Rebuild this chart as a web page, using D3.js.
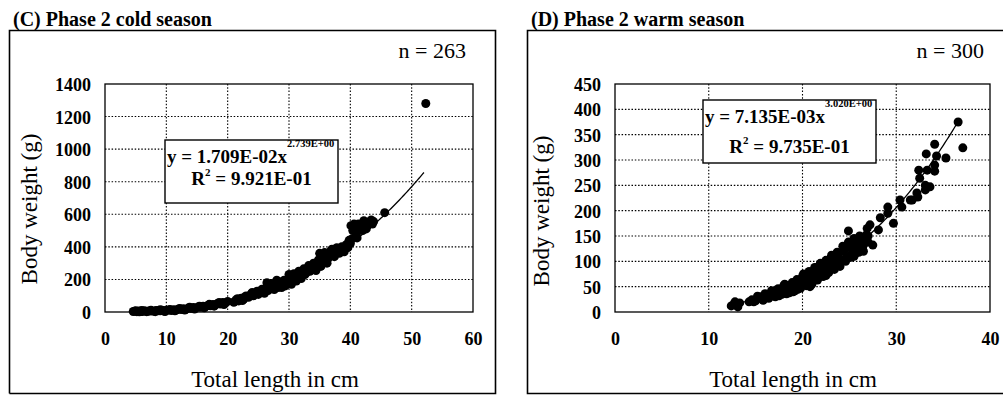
<!DOCTYPE html>
<html><head><meta charset="utf-8">
<script src="https://cdn.jsdelivr.net/npm/d3@7/dist/d3.min.js"></script>
</head><body style="margin:0;background:#fff">
<svg id="c" width="1003" height="395" font-family="serif" style="display:block;font-family:serif"></svg>
<script>
// ---- data ----
const coldLength = [4.6,4.9,5.2,5.5,5.8,6.1,6.4,6.7,7.0,7.3,7.6,8.0,8.3,8.6,9.0,9.3,9.6,10.0,10.4,10.8,11.2,11.6,12.0,12.4,12.8,13.2,13.6,14.0,14.4,14.8,15.2,15.6,16.0,16.4,16.8,17.2,17.6,18.0,18.4,18.8,19.2,19.6,20.0,21.0,21.4,21.8,22.2,22.6,23.0,23.4,23.8,24.2,24.6,25.0,25.4,25.8,26.2,26.4,26.6,27.0,27.4,27.8,28.0,28.2,28.6,29.0,29.4,29.8,30.2,30.6,31.0,31.4,31.8,32.2,32.6,33.0,33.4,33.8,34.2,34.6,35.0,35.3,35.6,36.0,36.4,36.8,37.2,37.6,38.0,38.4,38.8,39.2,39.6,40.0,40.3,40.1,40.4,40.8,41.0,41.3,41.6,42.0,42.4,42.8,43.2,43.6,45.6,52.3,
  5.0,5.6,6.0,6.8,7.5,8.2,9.0,9.8,10.6,11.4,12.2,13.0,13.8,14.6,15.4,16.2,17.0,17.8,18.6,19.4,21.2,21.6,22.4,22.8,23.6,24.0,24.8,25.6,26.0,26.8,27.2,27.6,28.4,28.8,29.2,29.6,30.0,30.4,30.8,31.2,31.6,32.0,32.4,32.8,33.2,33.6,34.0,34.4,34.8,35.2,35.8,36.2,36.6,37.0,37.4,37.8,38.2,38.6,39.0,39.4,39.8,40.6,41.1,41.8,42.2,42.6,43.0,43.4,43.8];
const coldWeight = [3,5,2,6,4,3,7,5,4,8,6,5,9,7,8,11,6,10,13,9,14,12,18,15,20,17,24,22,27,25,31,29,36,33,41,38,46,44,52,49,58,55,65,60,75,68,85,78,98,90,110,100,118,108,130,120,145,180,132,160,145,170,195,150,165,180,160,200,185,215,200,230,215,245,230,265,250,280,270,300,360,330,310,345,330,375,355,385,375,390,380,405,395,420,450,530,500,520,470,540,510,500,545,530,555,540,610,1280,
  8,1,9,2,10,2,14,3,16,7,22,12,29,18,36,26,47,36,58,46,66,82,70,92,100,120,128,140,115,150,175,138,185,150,195,175,230,170,235,190,250,205,265,240,285,260,300,255,320,280,365,300,350,385,340,395,360,400,370,415,440,540,455,530,560,510,540,565,555];
const warmLength = [12.4,12.7,13.0,13.3,12.8,14.3,14.6,15.0,15.3,15.6,15.9,16.2,16.5,16.8,17.0,17.3,17.5,17.6,17.9,18.0,18.2,18.3,18.5,18.8,19.0,19.0,19.3,19.5,19.6,19.9,20.0,20.2,20.5,20.8,20.8,21.0,21.1,21.4,21.5,21.7,22.0,22.3,22.5,22.6,22.9,23.0,23.2,23.5,23.8,24.0,24.1,24.4,24.5,24.7,24.9,25.0,25.3,25.5,25.6,25.9,26.0,26.0,26.2,26.5,26.5,26.8,27.0,27.2,27.5,28.1,28.3,29.1,29.7,29.1,30.4,30.6,31.5,31.7,32.2,32.3,33.1,33.1,33.6,32.5,32.4,33.3,34.1,34.1,35.3,34.3,33.2,37.1,34.1,36.6,
  13.1,14.8,15.2,15.8,16.0,16.4,16.7,17.1,17.4,17.8,18.1,18.6,18.9,19.2,19.4,19.8,20.1,20.4,20.7,21.0,21.3,21.6,21.9,22.2,22.5,22.8,23.1,23.4,23.7,24.0,24.3,24.6,24.9,25.2,25.5,25.8,26.1,26.4,26.7,27.0,26.9,25.7,23.9,22.0,20.6,19.1,17.7];
const warmWeight = [12,16,13,18,20,20,24,22,27,30,26,34,30,38,33,42,32,37,46,52,40,36,50,44,55,40,48,45,60,52,70,65,58,72,50,55,64,80,88,70,88,77,72,95,85,105,102,92,110,90,99,120,125,108,160,128,116,110,138,125,140,118,145,132,120,152,150,172,132,162,186,207,175,195,221,207,221,221,235,227,250,241,247,264,280,280,278,290,304,308,312,324,331,375,
  10,20,31,23,36,27,42,30,46,35,55,38,58,42,64,47,75,52,80,61,88,63,96,70,102,78,112,84,118,95,130,100,138,108,145,118,150,128,140,138,165,130,105,78,66,50,40];
const coldXTicks = [0,10,20,30,40,50,60];
const coldYTicks = [0,200,400,600,800,1000,1200,1400];
const warmXTicks = [0,10,20,30,40];
const warmYTicks = [0,50,100,150,200,250,300,350,400,450];
const coldFit = {a:0.01709, b:2.739, from:4.6, to:52};
const warmFit = {a:0.007135, b:3.020, from:12.4, to:36.8};

const FONT = "serif";
const svg = d3.select("#c");

function txt(sel, x, y, size, bold){
  return sel.append("text").attr("x",x).attr("y",y).attr("font-size",size)
    .attr("font-family",FONT).style("font-family",FONT)
    .attr("font-weight", bold ? "bold" : "normal").attr("fill","#000");
}

function panel(o){
  const g = svg.append("g");
  g.append("path").attr("d", o.frame).attr("fill","none").attr("stroke","#000").attr("stroke-width",1.6);
  txt(g, o.titleX, 26, 20, true).text(o.title);
  txt(g, o.nX, 58, 22, false).attr("text-anchor","end").text(o.n);

  const x = d3.scaleLinear().domain([o.xTicks[0], o.xTicks[o.xTicks.length-1]]).range([o.left,o.right]);
  const y = d3.scaleLinear().domain([o.yTicks[0], o.yTicks[o.yTicks.length-1]]).range([312,84]);

  g.append("g").selectAll("line").data(o.xTicks.slice(1,-1)).join("line")
    .attr("x1",d=>x(d)).attr("x2",d=>x(d)).attr("y1",84).attr("y2",312)
    .attr("stroke","#000").attr("stroke-width",1.1).attr("stroke-dasharray","1.5,1.8");
  g.append("g").selectAll("line").data(o.yTicks.slice(1,-1)).join("line")
    .attr("x1",o.left).attr("x2",o.right).attr("y1",d=>y(d)).attr("y2",d=>y(d))
    .attr("stroke","#000").attr("stroke-width",1.1).attr("stroke-dasharray","1.5,1.8");
  g.append("rect").attr("x",o.left).attr("y",84).attr("width",o.right-o.left).attr("height",228)
    .attr("fill","none").attr("stroke","#000").attr("stroke-width",1.3);

  const ax = g.append("g").attr("transform","translate(0,312)")
    .call(d3.axisBottom(x).tickValues(o.xTicks).tickSize(0).tickPadding(0).tickFormat(d3.format("d")));
  ax.attr("font-family",FONT).attr("font-size",18);
  ax.select(".domain").remove();
  ax.selectAll("text").attr("dy",null).attr("y",33).attr("font-size",18).attr("font-weight","bold")
    .attr("font-family",FONT).style("font-family",FONT).attr("fill","#000");
  const ay = g.append("g").attr("transform",`translate(${o.yLabX},0)`)
    .call(d3.axisLeft(y).tickValues(o.yTicks).tickSize(0).tickPadding(0).tickFormat(d3.format("d")));
  ay.attr("font-family",FONT).attr("font-size",18);
  ay.select(".domain").remove();
  ay.selectAll("text").attr("dy","0.36em").attr("font-size",18).attr("font-weight","bold")
    .attr("font-family",FONT).style("font-family",FONT).attr("fill","#000");

  const xs = d3.range(o.fit.from, o.fit.to, 0.2).concat([o.fit.to]);
  g.append("path").datum(xs)
    .attr("d", d3.line().x(d=>x(d)).y(d=>y(o.fit.a*Math.pow(d,o.fit.b))))
    .attr("fill","none").attr("stroke","#000").attr("stroke-width",1.3);

  g.append("g").selectAll("circle").data(o.lx.map((v,i)=>[v,o.wy[i]])).join("circle")
    .attr("cx",d=>x(d[0])).attr("cy",d=>y(d[1])).attr("r",4.5).attr("fill","#000");

  const b = o.box;
  g.append("rect").attr("x",b.x).attr("y",b.y).attr("width",173).attr("height",63)
    .attr("fill","#fff").attr("stroke","#000").attr("stroke-width",1.4);
  const t1 = txt(g, b.x+2, b.l1, 19, true);
  t1.append("tspan").text(o.eq);
  t1.append("tspan").attr("dy",-16).attr("font-size",10.5).text(o.exp);
  const t2 = txt(g, b.x+86.5, b.l2, 19, true).attr("text-anchor","middle");
  t2.append("tspan").text("R");
  t2.append("tspan").attr("dy",-9).attr("font-size",11).text("2");
  t2.append("tspan").attr("dy",9).text(" = "+o.r2);

  txt(g, o.xTitleX, 387, 23, false).attr("text-anchor","middle").text("Total length in cm");
  txt(g, 0, 0, 23, false).attr("transform",`translate(${o.yTitleX},${o.yTitleY}) rotate(-90)`).attr("text-anchor","middle").text("Body weight (g)");
}

panel({frame:"M9.5,393.5V30.5H495.5V393.5H9.5", title:"(C) Phase 2 cold season", titleX:13, n:"n = 263", nX:466,
  xTicks:coldXTicks, yTicks:coldYTicks, left:105, right:473, yLabX:91,
  fit:coldFit, lx:coldLength, wy:coldWeight,
  box:{x:165,y:140,l1:163,l2:185}, eq:"y = 1.709E-02x", exp:"2.739E+00", r2:"9.921E-01",
  xTitleX:275, yTitleX:37, yTitleY:209});
panel({frame:"M1010,393.5H527.5V30.5H1010", title:"(D) Phase 2 warm season", titleX:531, n:"n = 300", nX:984,
  xTicks:warmXTicks, yTicks:warmYTicks, left:615, right:990, yLabX:601,
  fit:warmFit, lx:warmLength, wy:warmWeight,
  box:{x:703,y:100,l1:123,l2:153}, eq:"y = 7.135E-03x", exp:"3.020E+00", r2:"9.735E-01",
  xTitleX:793, yTitleX:549, yTitleY:211});
</script></body></html>
